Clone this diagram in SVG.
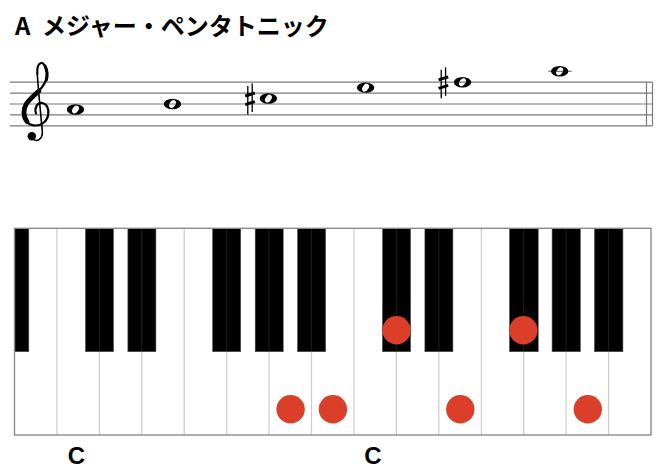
<svg xmlns="http://www.w3.org/2000/svg" width="664" height="470" viewBox="0 0 664 470">
<style>
.title{font-family:"Noto Sans CJK JP","Noto Sans",sans-serif;font-weight:700;font-size:24px;fill:#000}
.lbl{font-family:"Liberation Sans",Arial,sans-serif;font-weight:700;font-size:24px;fill:#000;text-anchor:middle}
.staff{stroke:#7a7a7a;stroke-width:1.2;fill:none}
.div{stroke:#575757;stroke-opacity:0.3;stroke-width:1.2}
.bk{fill:#000;stroke:#4a4a4a;stroke-width:0.6}
.dot{fill:#db3e29}
.sh{stroke:#000;fill:none}
</style>
<defs>
<path id="whole" fill-rule="evenodd" d="M -8.7,0 A 8.7 5.2 0 1 0 8.7,0 A 8.7 5.2 0 1 0 -8.7,0 Z M 2.47,-3.52 A 4.3 2.9 -55 1 0 -2.47,3.52 A 4.3 2.9 -55 1 0 2.47,-3.52 Z"/>
<g id="sharp">
<line class="sh" x1="-2.2" y1="-13" x2="-2.2" y2="15.5" stroke-width="1.3"/>
<line class="sh" x1="2.2" y1="-15.5" x2="2.2" y2="13" stroke-width="1.3"/>
<line class="sh" x1="-4.8" y1="-3" x2="4.8" y2="-6" stroke-width="2.9"/>
<line class="sh" x1="-4.8" y1="5.6" x2="4.8" y2="2.6" stroke-width="2.9"/>
</g>
</defs>

<g id="title">
<text class="title" x="15" y="34.5">A <tspan x="42">メジャー・ペンタトニック</tspan></text>
</g>

<g id="staff">
<line class="staff" x1="10" y1="82.2" x2="652.5" y2="82.2"/>
<line class="staff" x1="10" y1="93.1" x2="652.5" y2="93.1"/>
<line class="staff" x1="10" y1="104" x2="652.5" y2="104"/>
<line class="staff" x1="10" y1="114.9" x2="652.5" y2="114.9"/>
<line class="staff" x1="10" y1="125.8" x2="652.5" y2="125.8"/>
<line class="staff" x1="646.5" y1="82.2" x2="646.5" y2="125.8"/>
<line class="staff" x1="652.5" y1="82.2" x2="652.5" y2="125.8"/>
<line class="staff" x1="548.3" y1="71.3" x2="571.7" y2="71.3"/>
</g>

<g id="clef" fill="none" stroke="#000" stroke-linecap="round" stroke-linejoin="round">
<path stroke-width="2.2" d="M 36,113.5 C 34,107.5 37.5,102.5 42,103 C 46.5,103.5 49,108 48.3,114 C 47.5,121 41.5,125.8 35,125.5 C 27.5,125 22.5,119 23,112 C 23.6,104 30,98.5 37.5,92 C 43,87 47.5,81 47,73 C 46.6,67 43.5,62.5 41,63 C 38,63.7 37,68 37.3,74"/>
<path stroke-width="1.6" d="M 37.3,74 C 38.5,92 40.5,112 42.3,131 C 43,139 37,142.5 33,139"/>
<path stroke-width="4.8" d="M 27,121.5 C 23.5,117 22.8,110 26,104.5 C 29,99.5 33.5,96 39,91"/>
<path stroke-width="3" d="M 46.3,80 C 47.5,76 47,70 45,66"/>
<circle cx="31.8" cy="136.3" r="4.2" fill="#000" stroke="none"/>
</g>

<g id="notes" fill="#000">
<use href="#whole" x="75.5" y="109.45"/>
<use href="#whole" x="172.5" y="104"/>
<use href="#sharp" x="250" y="99"/>
<use href="#whole" x="268.4" y="98.55"/>
<use href="#whole" x="365.6" y="87.65"/>
<use href="#sharp" x="443.4" y="82.8"/>
<use href="#whole" x="462.5" y="82.2"/>
<use href="#whole" x="559.7" y="71.3"/>
</g>

<g id="keyboard">
<rect x="14.5" y="228.3" width="636.5" height="206.7" fill="#fff"/>
<g id="black-keys">
<rect class="bk" x="14.5" y="228.3" width="14.3" height="123.4"/>
<rect class="bk" x="85.5" y="228.3" width="28" height="123.4"/>
<rect class="bk" x="127.9" y="228.3" width="28" height="123.4"/>
<rect class="bk" x="212.7" y="228.3" width="28" height="123.4"/>
<rect class="bk" x="255.2" y="228.3" width="28" height="123.4"/>
<rect class="bk" x="297.6" y="228.3" width="28" height="123.4"/>
<rect class="bk" x="382.5" y="228.3" width="28" height="123.4"/>
<rect class="bk" x="424.9" y="228.3" width="28" height="123.4"/>
<rect class="bk" x="509.6" y="228.3" width="28.6" height="123.4"/>
<rect class="bk" x="552.1" y="228.3" width="28.2" height="123.4"/>
<rect class="bk" x="594.5" y="228.3" width="28.4" height="123.4"/>
</g>
<g id="dividers">
<line class="div" x1="56.9" y1="228.3" x2="56.9" y2="435"/>
<line class="div" x1="99.4" y1="228.3" x2="99.4" y2="435"/>
<line class="div" x1="141.8" y1="228.3" x2="141.8" y2="435"/>
<line class="div" x1="184.2" y1="228.3" x2="184.2" y2="435"/>
<line class="div" x1="226.7" y1="228.3" x2="226.7" y2="435"/>
<line class="div" x1="269.1" y1="228.3" x2="269.1" y2="435"/>
<line class="div" x1="311.5" y1="228.3" x2="311.5" y2="435"/>
<line class="div" x1="354" y1="228.3" x2="354" y2="435"/>
<line class="div" x1="396.4" y1="228.3" x2="396.4" y2="435"/>
<line class="div" x1="438.8" y1="228.3" x2="438.8" y2="435"/>
<line class="div" x1="481.3" y1="228.3" x2="481.3" y2="435"/>
<line class="div" x1="523.7" y1="228.3" x2="523.7" y2="435"/>
<line class="div" x1="566.1" y1="228.3" x2="566.1" y2="435"/>
<line class="div" x1="608.6" y1="228.3" x2="608.6" y2="435"/>
</g>
<rect x="14.5" y="228.3" width="636.5" height="206.7" fill="none" stroke="#8c8c8c" stroke-width="1.4"/>
</g>

<g id="dots">
<circle class="dot" cx="290.6" cy="409.3" r="14.2"/>
<circle class="dot" cx="332.9" cy="409.3" r="14.2"/>
<circle class="dot" cx="460.3" cy="409.3" r="14.2"/>
<circle class="dot" cx="587.8" cy="409.3" r="14.2"/>
<circle class="dot" cx="396.5" cy="330.3" r="14.2"/>
<circle class="dot" cx="523.4" cy="330.3" r="14.2"/>
</g>

<g id="labels">
<text class="lbl" x="76.5" y="464">C</text>
<text class="lbl" x="373" y="464">C</text>
</g>
</svg>
